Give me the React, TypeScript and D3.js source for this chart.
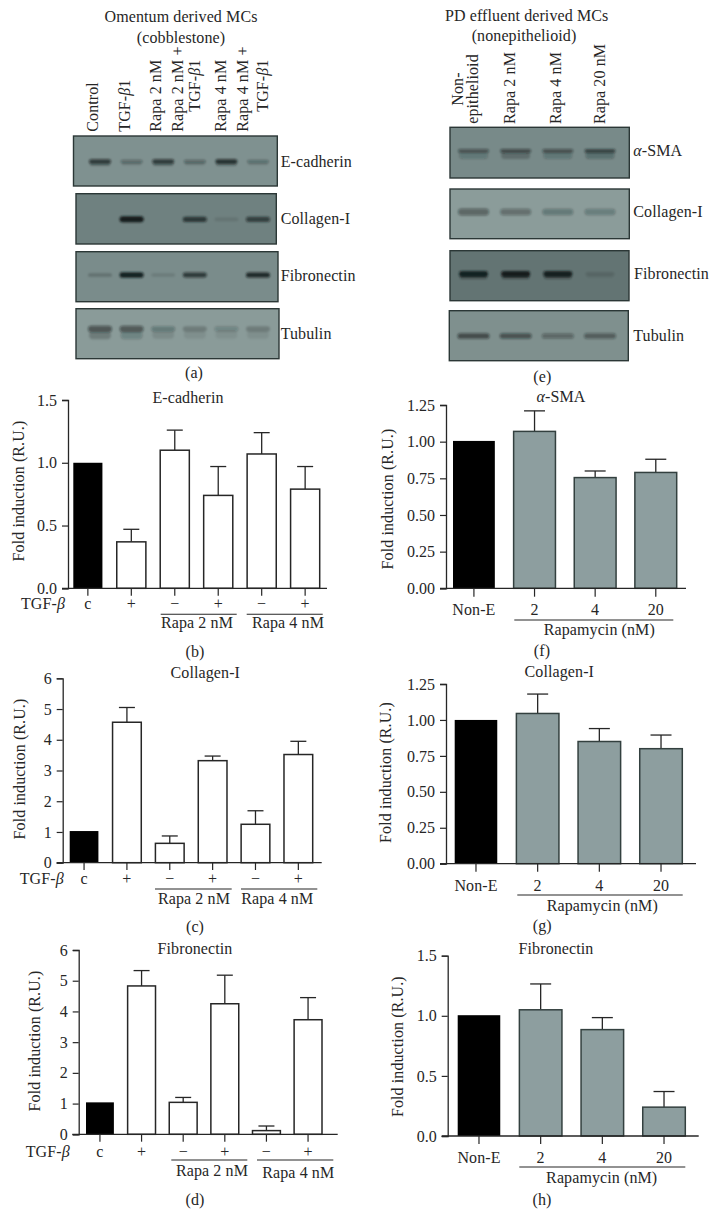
import React, { useEffect, useRef } from "react";
import * as d3 from "d3";

// ---------- Data ----------
const leftCategories = ["c", "+", "−", "+", "−", "+"];
const rightCategories = ["Non-E", "2", "4", "20"];

const eCadherinValues = [1.0, 0.37, 1.1, 0.74, 1.07, 0.79];
const eCadherinErrors = [null, 0.47, 1.26, 0.97, 1.24, 0.97];
const collagenValues = [1.03, 4.57, 0.63, 3.32, 1.25, 3.52];
const collagenErrors = [null, 5.05, 0.87, 3.47, 1.69, 3.95];
const fibronectinValues = [1.04, 4.83, 1.04, 4.25, 0.12, 3.73];
const fibronectinErrors = [null, 5.33, 1.2, 5.18, 0.27, 4.45];

const smaValues = [1.005, 1.07, 0.755, 0.79];
const smaErrors = [null, 1.21, 0.8, 0.88];
const collagenPdValues = [1.0, 1.045, 0.85, 0.8];
const collagenPdErrors = [null, 1.18, 0.94, 0.895];
const fibronectinPdValues = [1.005, 1.05, 0.885, 0.24];
const fibronectinPdErrors = [null, 1.265, 0.985, 0.37];

const ticks6 = [0, 1, 2, 3, 4, 5, 6];
const ticks15 = [0, 0.5, 1, 1.5];
const ticks125 = [0, 0.25, 0.5, 0.75, 1, 1.25];

// Western blot band intensities per lane
const blotECadherin = [0.72, 0.32, 0.72, 0.34, 0.8, 0.28];
const blotCollagen = [0, 1, 0, 0.72, 0.1, 0.65];
const blotFibronectin = [0.2, 0.95, 0.12, 0.72, 0, 0.85];
const blotTubulin = [0.5, 0.48, 0.26, 0.2, 0.18, 0.2];
const blotSma = [0.45, 0.52, 0.48, 0.62];
const blotCollagenPd = [0.4, 0.34, 0.27, 0.24];
const blotFibronectinPd = [0.95, 1, 0.9, 0.12];
const blotTubulinPd = [0.55, 0.5, 0.35, 0.42];

const FONT = "'Liberation Serif', serif";
const INK = "#262626";
const GREY = "#8d9e9f";
const GREY_STROKE = "#33403f";

type Sel = d3.Selection<any, any, any, any>;

function addText(
  g: Sel,
  x: number,
  y: number,
  str: string,
  opts: { anchor?: string; rotate?: boolean; size?: number } = {}
) {
  const t = g
    .append("text")
    .attr("font-family", FONT)
    .attr("font-size", opts.size ?? 16)
    .attr("fill", INK)
    .attr("letter-spacing", 0.1)
    .attr("text-anchor", opts.anchor ?? "middle");
  if (opts.rotate) t.attr("transform", `translate(${x},${y}) rotate(-90)`);
  else t.attr("x", x).attr("y", y);
  str.split("*").forEach((part, i) => {
    if (!part) return;
    const s = t.append("tspan").text(part);
    if (i % 2 === 1) s.attr("font-style", "italic");
  });
}

function drawBlot(
  g: Sel,
  id: string,
  b: {
    x0: number; x1: number; y0: number; y1: number; fill: string; vals: number[];
    lanes: [number, number]; bandY: number; bandW: number; bandH: number; smear?: number;
  }
) {
  const clip = `clip-${id}`;
  g.append("clipPath").attr("id", clip).append("rect")
    .attr("x", b.x0).attr("y", b.y0).attr("width", b.x1 - b.x0).attr("height", b.y1 - b.y0);
  g.append("rect")
    .attr("x", b.x0).attr("y", b.y0).attr("width", b.x1 - b.x0).attr("height", b.y1 - b.y0)
    .attr("fill", b.fill);
  const lane = d3.scalePoint<number>().domain(b.vals.map((_, i) => i)).range(b.lanes);
  const bands = g.append("g").attr("clip-path", `url(#${clip})`).append("g").attr("filter", "url(#bandBlur)");
  b.vals.forEach((v, i) => {
    if (v <= 0) return;
    const cx = lane(i) as number;
    const h = b.bandH * (0.6 + 0.4 * v);
    bands.append("rect")
      .attr("x", cx - b.bandW / 2).attr("width", b.bandW)
      .attr("y", b.bandY - h / 2).attr("height", h)
      .attr("rx", h / 2)
      .attr("fill", "#121a1a").attr("opacity", v);
    if (b.smear) {
      bands.append("rect")
        .attr("x", cx - b.bandW / 2 + 1).attr("width", b.bandW - 2)
        .attr("y", b.bandY + h / 2 - 1).attr("height", b.smear)
        .attr("rx", b.smear / 2)
        .attr("fill", "#121a1a").attr("opacity", v * 0.4);
    }
  });
  g.append("rect")
    .attr("x", b.x0).attr("y", b.y0).attr("width", b.x1 - b.x0).attr("height", b.y1 - b.y0)
    .attr("fill", "none").attr("stroke", "#2b3736").attr("stroke-width", 1.4);
}

type Panel = {
  title: string; titleX: number; titleY: number;
  cats: string[]; values: number[]; errors: (number | null)[];
  axisX: number; y0: number; y1: number; yMax: number; yTicks: number[]; yFormat: string;
  xStart: number; xEnd: number; barStart: number; barEnd: number; padding: number;
  fill: string; stroke: string; capHalf: number; tickEnd: number;
  labelY: number; yLabelX: number; yLabelY: number;
};

function drawPanel(g: Sel, p: Panel) {
  const y = d3.scaleLinear().domain([0, p.yMax]).range([p.y0, p.y1]);
  const x = d3.scaleBand<number>()
    .domain(p.cats.map((_, i) => i))
    .range([p.barStart, p.barEnd])
    .paddingInner(p.padding)
    .paddingOuter(0);

  p.errors.forEach((e, i) => {
    if (e == null) return;
    const cx = (x(i) as number) + x.bandwidth() / 2;
    g.append("line").attr("x1", cx).attr("x2", cx).attr("y1", y(p.values[i])).attr("y2", y(e))
      .attr("stroke", INK).attr("stroke-width", 1.3);
    g.append("line").attr("x1", cx - p.capHalf).attr("x2", cx + p.capHalf).attr("y1", y(e)).attr("y2", y(e))
      .attr("stroke", INK).attr("stroke-width", 1.3);
  });

  p.values.forEach((v, i) => {
    const isControl = i === 0;
    g.append("rect")
      .attr("x", x(i) as number).attr("width", x.bandwidth())
      .attr("y", y(v)).attr("height", p.y0 - y(v))
      .attr("fill", isControl ? "#000" : p.fill)
      .attr("stroke", isControl ? "none" : p.stroke)
      .attr("stroke-width", 1.5);
  });

  const yAxis = d3.axisLeft(y).tickValues(p.yTicks).tickSize(6).tickPadding(5)
    .tickFormat((d) => (p.yFormat === "int" ? String(d) : d3.format(p.yFormat)(d as number)));
  const ya = g.append("g").attr("transform", `translate(${p.axisX},0)`).call(yAxis as any);
  ya.select(".domain").attr("stroke", INK).attr("stroke-width", 1.3);
  ya.selectAll(".tick line").attr("stroke", INK).attr("stroke-width", 1.2);
  ya.selectAll(".tick text").attr("font-family", FONT).attr("font-size", 16).attr("fill", INK);

  g.append("line").attr("x1", p.xStart).attr("x2", p.xEnd).attr("y1", p.y0).attr("y2", p.y0)
    .attr("stroke", INK).attr("stroke-width", 1.3);
  p.cats.forEach((c, i) => {
    const cx = (x(i) as number) + x.bandwidth() / 2;
    g.append("line").attr("x1", cx).attr("x2", cx).attr("y1", p.y0).attr("y2", p.tickEnd)
      .attr("stroke", INK).attr("stroke-width", 1.2);
    addText(g, cx, p.labelY, c);
  });

  addText(g, p.titleX, p.titleY, p.title);
  addText(g, p.yLabelX, p.yLabelY, "Fold induction (R.U.)", { rotate: true });
}

function drawAll(svgEl: SVGSVGElement) {
  const svg = d3.select(svgEl);
  svg.selectAll("*").remove();
  const defs = svg.append("defs");
  defs.append("filter").attr("id", "bandBlur").attr("x", "-30%").attr("y", "-100%").attr("width", "160%").attr("height", "300%")
    .append("feGaussianBlur").attr("stdDeviation", 1.1);
  const g = svg.append("g");

  // ---------- (a) blots ----------
  addText(g, 181, 21.7, "Omentum derived MCs");
  addText(g, 181, 42.7, "(cobblestone)");
  const rotA: [number, number, string][] = [
    [98, 131.7, "Control"], [130, 131.7, "TGF-*β*1"], [161, 131.7, "Rapa 2 nM"],
    [182.5, 131.7, "Rapa 2 nM +"], [200, 111.7, "TGF-*β*1"], [225.5, 131.7, "Rapa 4 nM"],
    [248, 131.7, "Rapa 4 nM +"], [268, 111.7, "TGF-*β*1"],
  ];
  rotA.forEach(([x, y, s]) => addText(g, x, y, s, { rotate: true, anchor: "start" }));

  const lanesA: [number, number] = [100, 258];
  drawBlot(g, "a1", { x0: 73.5, x1: 277.3, y0: 136, y1: 186, fill: "#7f9190", vals: blotECadherin, lanes: lanesA, bandY: 161.5, bandW: 22, bandH: 5, smear: 3 });
  drawBlot(g, "a2", { x0: 76, x1: 276.3, y0: 193.7, y1: 244, fill: "#6f8180", vals: blotCollagen, lanes: lanesA, bandY: 219.3, bandW: 24, bandH: 6 });
  drawBlot(g, "a3", { x0: 76, x1: 278, y0: 251.7, y1: 301.7, fill: "#7a8c8b", vals: blotFibronectin, lanes: lanesA, bandY: 275, bandW: 24, bandH: 5.5 });
  drawBlot(g, "a4", { x0: 76, x1: 279, y0: 308.7, y1: 358.7, fill: "#8a9b99", vals: blotTubulin, lanes: lanesA, bandY: 329, bandW: 24, bandH: 8, smear: 8 });
  addText(g, 280.7, 166.7, "E-cadherin", { anchor: "start" });
  addText(g, 280.7, 224, "Collagen-I", { anchor: "start" });
  addText(g, 280.7, 281, "Fibronectin", { anchor: "start" });
  addText(g, 280.7, 338.7, "Tubulin", { anchor: "start" });
  addText(g, 194, 377.7, "(a)");

  // ---------- (e) blots ----------
  addText(g, 526.7, 20.7, "PD effluent derived MCs");
  addText(g, 524, 40.7, "(nonepithelioid)");
  addText(g, 462.7, 89, "Non-", { rotate: true });
  addText(g, 478.3, 89, "epithelioid", { rotate: true });
  addText(g, 515, 124, "Rapa 2 nM", { rotate: true, anchor: "start" });
  addText(g, 561, 124, "Rapa 4 nM", { rotate: true, anchor: "start" });
  addText(g, 605, 124, "Rapa 20 nM", { rotate: true, anchor: "start" });

  const lanesE: [number, number] = [473.5, 600];
  drawBlot(g, "e1", { x0: 450, x1: 629.3, y0: 127.3, y1: 178, fill: "#788a89", vals: blotSma, lanes: lanesE, bandY: 151, bandW: 31, bandH: 5, smear: 7 });
  drawBlot(g, "e2", { x0: 450, x1: 629.3, y0: 189, y1: 238.7, fill: "#8b9c9a", vals: blotCollagenPd, lanes: lanesE, bandY: 212, bandW: 31, bandH: 9 });
  drawBlot(g, "e3", { x0: 450, x1: 629, y0: 250.7, y1: 300.7, fill: "#637473", vals: blotFibronectinPd, lanes: lanesE, bandY: 274, bandW: 29, bandH: 6, smear: 3 });
  drawBlot(g, "e4", { x0: 449.3, x1: 628.3, y0: 310.7, y1: 360.7, fill: "#7f908e", vals: blotTubulinPd, lanes: lanesE, bandY: 336, bandW: 32, bandH: 7 });
  addText(g, 633.3, 155.7, "*α*-SMA", { anchor: "start" });
  addText(g, 633.3, 216.7, "Collagen-I", { anchor: "start" });
  addText(g, 634, 279, "Fibronectin", { anchor: "start" });
  addText(g, 633.3, 340.7, "Tubulin", { anchor: "start" });
  addText(g, 542.3, 381.7, "(e)");

  // ---------- left bar panels ----------
  const white = { fill: "#fff", stroke: INK, capHalf: 8, cats: leftCategories, padding: 0.33 };

  drawPanel(g, { ...white, title: "E-cadherin", titleX: 188, titleY: 403, values: eCadherinValues, errors: eCadherinErrors,
    axisX: 68, y0: 588.3, y1: 400, yMax: 1.5, yTicks: ticks15, yFormat: ".1f",
    xStart: 62, xEnd: 327, barStart: 73.3, barEnd: 319.7, tickEnd: 595.7, labelY: 609, yLabelX: 24, yLabelY: 491 });
  addText(g, 43, 609, "TGF-*β*");
  const groupLine = (x1: number, x2: number, y: number) =>
    g.append("line").attr("x1", x1).attr("x2", x2).attr("y1", y).attr("y2", y).attr("stroke", INK).attr("stroke-width", 1.1);
  groupLine(160.7, 236.7, 614.3); groupLine(246.7, 322.7, 614.3);
  addText(g, 197, 628, "Rapa 2 nM"); addText(g, 288, 628, "Rapa 4 nM");
  addText(g, 195, 657, "(b)");

  drawPanel(g, { ...white, title: "Collagen-I", titleX: 205.3, titleY: 678.3, values: collagenValues, errors: collagenErrors,
    axisX: 62.7, y0: 862.7, y1: 678.3, yMax: 6, yTicks: ticks6, yFormat: "int",
    xStart: 56.7, xEnd: 321.7, barStart: 69.7, barEnd: 312.7, tickEnd: 870, labelY: 884, yLabelX: 25, yLabelY: 769 });
  addText(g, 41.7, 884, "TGF-*β*");
  groupLine(155, 231.7, 889); groupLine(241, 317.3, 889);
  addText(g, 194, 904, "Rapa 2 nM"); addText(g, 277.3, 904, "Rapa 4 nM");
  addText(g, 195, 931.7, "(c)");

  drawPanel(g, { ...white, title: "Fibronectin", titleX: 195, titleY: 954, values: fibronectinValues, errors: fibronectinErrors,
    axisX: 78.7, y0: 1134.3, y1: 950, yMax: 6, yTicks: ticks6, yFormat: "int",
    xStart: 72.3, xEnd: 337.7, barStart: 86, barEnd: 322, tickEnd: 1141.7, labelY: 1156.7, yLabelX: 40, yLabelY: 1041 });
  addText(g, 47.7, 1156.7, "TGF-*β*");
  groupLine(171.3, 247.3, 1160); groupLine(257, 333.3, 1160);
  addText(g, 212, 1176, "Rapa 2 nM"); addText(g, 298.3, 1177.7, "Rapa 4 nM");
  addText(g, 195, 1205, "(d)");

  // ---------- right bar panels ----------
  const grey = { fill: GREY, stroke: GREY_STROKE, capHalf: 10.5, cats: rightCategories, padding: 0.31 };

  drawPanel(g, { ...grey, title: "*α*-SMA", titleX: 561, titleY: 401.7, values: smaValues, errors: smaErrors,
    axisX: 446, y0: 588.3, y1: 405, yMax: 1.25, yTicks: ticks125, yFormat: ".2f",
    xStart: 440, xEnd: 686, barStart: 453, barEnd: 676.7, tickEnd: 596.7, labelY: 615, yLabelX: 393, yLabelY: 499 });
  groupLine(514.3, 673.3, 620);
  addText(g, 599.3, 635, "Rapamycin (nM)");
  addText(g, 542, 655.7, "(f)");

  drawPanel(g, { ...grey, title: "Collagen-I", titleX: 559.3, titleY: 677, values: collagenPdValues, errors: collagenPdErrors,
    axisX: 446, y0: 863.7, y1: 684, yMax: 1.25, yTicks: ticks125, yFormat: ".2f",
    xStart: 440, xEnd: 696, barStart: 454.7, barEnd: 682.3, tickEnd: 871.7, labelY: 890.7, yLabelX: 390.7, yLabelY: 772.5 });
  groupLine(517.3, 682.7, 895);
  addText(g, 602.3, 910.7, "Rapamycin (nM)");
  addText(g, 542.3, 931, "(g)");

  drawPanel(g, { ...grey, title: "Fibronectin", titleX: 556, titleY: 954, values: fibronectinPdValues, errors: fibronectinPdErrors,
    axisX: 447.7, y0: 1136, y1: 955.7, yMax: 1.5, yTicks: ticks15, yFormat: ".1f",
    xStart: 441.7, xEnd: 698.7, barStart: 457.7, barEnd: 685.3, tickEnd: 1144, labelY: 1163.3, yLabelX: 402.7, yLabelY: 1046.7 });
  groupLine(519.3, 685.3, 1167);
  addText(g, 601.7, 1182.7, "Rapamycin (nM)");
  addText(g, 542, 1205, "(h)");
}

export default function App() {
  const ref = useRef<SVGSVGElement>(null);
  useEffect(() => {
    if (ref.current) drawAll(ref.current);
  }, []);
  return (
    <svg
      ref={ref}
      width={720}
      height={1218}
      viewBox="0 0 720 1218"
      style={{ position: "absolute", left: 0, top: 0, background: "#fff", display: "block" }}
    />
  );
}
